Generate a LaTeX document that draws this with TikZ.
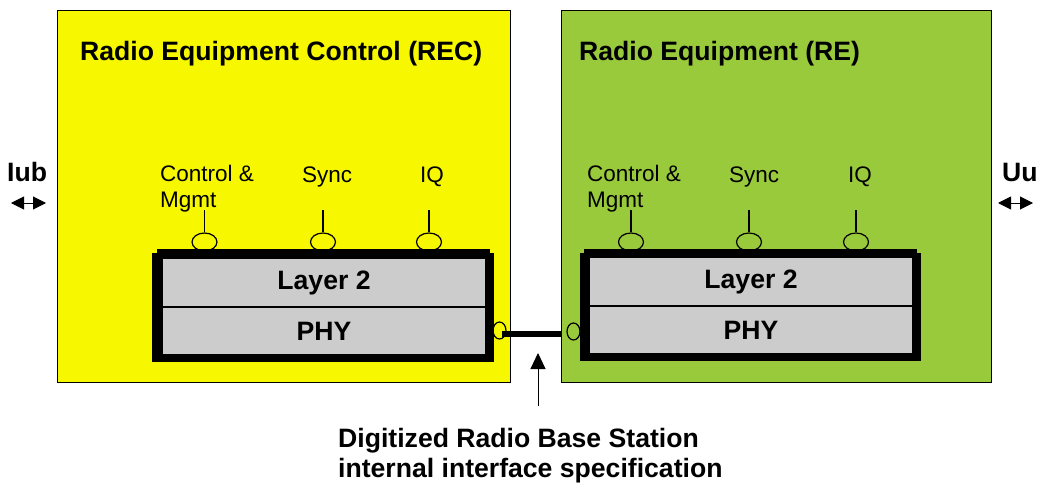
\documentclass[tikz,border=0pt]{standalone}
\usepackage{fontspec}
\setmainfont{Liberation Sans}
\usetikzlibrary{shapes.geometric,arrows.meta,positioning}
\definecolor{recyellow}{RGB}{247,247,0}
\definecolor{regreen}{RGB}{153,202,60}
\definecolor{cellgray}{RGB}{204,204,204}
\tikzset{
    % Equipment frame styles
    equipment/.style={
        rectangle, draw=black, line width=1pt,
        anchor=north west, inner sep=0pt
    },
    blackframe/.style={
        rectangle, fill=black, anchor=north west, inner sep=0pt
    },
    cell/.style={
        rectangle, draw=black, line width=1pt, fill=cellgray,
        minimum width=323pt, inner sep=0pt,
        font=\fontsize{26.6}{30}\selectfont\bfseries
    },
    pinhead/.style={
        ellipse, draw=black, line width=1.2pt,
        minimum width=25pt, minimum height=18pt, inner sep=0pt
    },
    porthead/.style={
        ellipse, draw=black, line width=1.2pt,
        minimum width=13pt, minimum height=17pt, inner sep=0pt
    },
    title/.style={anchor=base west, inner sep=0pt, font=\fontsize{26.6}{30}\selectfont\bfseries},
    sigtext/.style={anchor=base west, inner sep=0pt, font=\fontsize{22.5}{26}\selectfont},
    ifarrow/.style={{Triangle[length=13pt,width=13pt]}-{Triangle[length=13pt,width=13pt]}, line width=1pt}
}
\begin{document}
\begin{tikzpicture}[x=1pt,y=-1pt]
\useasboundingbox (0,0) rectangle (1045,487);

% Equipment areas
\node[equipment, fill=recyellow, minimum width=453pt, minimum height=372pt] (rec) at (57,10) {};
\node[equipment, fill=regreen, minimum width=430pt, minimum height=372pt] (re) at (561,10) {};

% Titles
\node[title] (rectitle) at (80,61) {Radio Equipment Control (REC)};
\node[title] (retitle) at (579,61) {Radio Equipment (RE)};

% External interfaces
\node[title] (iub) at (7,181) {Iub};
\coordinate (iubL) at (11,203);
\coordinate (iubR) at (46,203);
\draw[ifarrow] (iubL) -- (iubR);
\node[title] (uu) at (1002,181) {Uu};
\coordinate (uuL) at (998,203);
\coordinate (uuR) at (1033,203);
\draw[ifarrow] (uuL) -- (uuR);

% Service access points
\node[sigtext, anchor=north west, align=left] (reccm) at (160,165) {Control \&\\Mgmt};
\node[sigtext] (recsync) at (302,182) {Sync};
\node[sigtext] (reciq) at (420,182) {IQ};
\node[sigtext, anchor=north west, align=left] (recm) at (587,165) {Control \&\\Mgmt};
\node[sigtext] (resync) at (729,182) {Sync};
\node[sigtext] (reiq) at (848,182) {IQ};

\foreach \nm/\x in {pcm/204.5, psy/323, piq/429, qcm/631, qsy/749, qiq/856} {
    \node[pinhead] (\nm) at (\x,242) {};
    \coordinate (\nm top) at (\x,210);
    \draw[line width=1.2pt] (\nm top) -- (\nm);
}

% Internal interface ports
\node[porthead] (lport) at (499.5,330.5) {};
\node[porthead] (rport) at (573.5,331.5) {};

% Protocol stacks (REC)
\node[blackframe, minimum width=342pt, minimum height=109pt] (recshadow) at (152,253) {};
\node[blackframe, minimum width=333pt, minimum height=109pt] (recframe) at (157,249) {};
\node[cell, minimum height=48pt, anchor=north west] (l2rec) at (162,258) {Layer 2};
\node[cell, minimum height=47pt, anchor=north] (phyrec) at (l2rec.south) {PHY};

% Protocol stacks (RE)
\node[blackframe, minimum width=341pt, minimum height=108pt] (reshadow) at (580,253) {};
\node[blackframe, minimum width=333pt, minimum height=108pt] (reframe) at (584,249) {};
\node[cell, minimum height=48pt, anchor=north west] (l2re) at (589,257) {Layer 2};
\node[cell, minimum height=47pt, anchor=north] (phyre) at (l2re.south) {PHY};

% Link between REC and RE
\coordinate (linkA) at (502,334);
\draw[line width=6pt] (linkA) -- (linkA -| re.west);

% Interface specification
\coordinate (ifcfoot) at (538,406);
\coordinate (ifctip) at (538,353);
\draw[line width=1pt, -{Triangle[length=16pt,width=15pt]}] (ifcfoot) -- (ifctip);
\node[title, anchor=north west, align=left] (ifcspec) at (338,428) {Digitized Radio Base Station\\internal interface specification};

\end{tikzpicture}
\end{document}
